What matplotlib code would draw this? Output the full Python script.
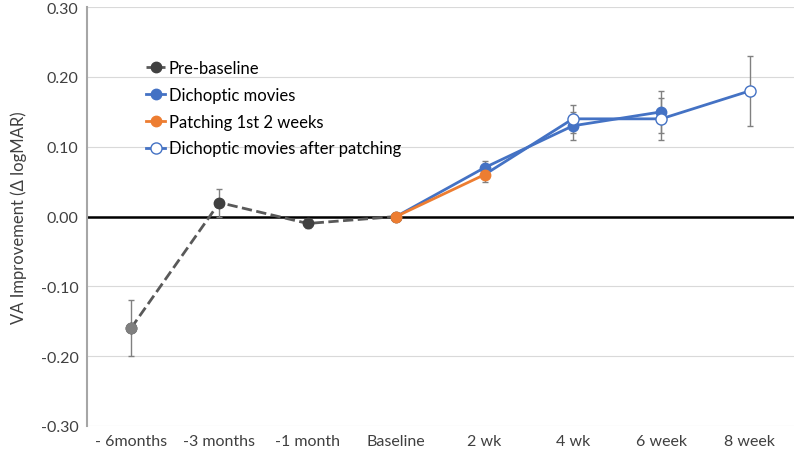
import matplotlib.pyplot as plt
import numpy as np

plt.rcParams['font.family'] = ['Lato', 'DejaVu Sans']

labels = ['- 6months', '-3 months', '-1 month', 'Baseline', '2 wk', '4 wk', '6 week', '8 week']

# series values (x index, y, error)
pre_x = [0, 1, 2, 3]
pre_y = [-0.16, 0.02, -0.01, 0.0]
pre_err = [0.04, 0.02, 0.006, 0.0]

dich_x = [3, 4, 5, 6]
dich_y = [0.0, 0.07, 0.13, 0.15]
dich_err = [0.0, 0.01, 0.02, 0.03]

patch_x = [3, 4]
patch_y = [0.0, 0.06]
patch_err = [0.0, 0.01]

after_x = [4, 5, 6, 7]
after_y = [0.06, 0.14, 0.14, 0.18]
after_err = [0.0, 0.02, 0.03, 0.05]

grey = '#595959'
blue = '#4472C4'
orange = '#ED7D31'
errc = '#808080'

fig = plt.figure(figsize=(7.97, 4.56), dpi=100)
ax = fig.add_axes([0.109, 0.064, 0.887, 0.918])

ax.set_xlim(-0.5, 7.5)
ax.set_ylim(-0.30, 0.30)
ax.set_yticks(np.arange(-0.3, 0.31, 0.1))
ax.set_yticklabels(['%.2f' % v for v in np.arange(-0.3, 0.31, 0.1)])
ax.set_xticks(range(len(labels)))
ax.set_xticklabels(labels)
ax.yaxis.grid(True, color='#d9d9d9', lw=0.8)
ax.set_axisbelow(True)
ax.axhline(0, color='black', lw=1.8, zorder=2)

for s in ['top', 'right', 'bottom']:
    ax.spines[s].set_visible(False)
ax.spines['left'].set_color('#a6a6a6')
ax.spines['left'].set_linewidth(1.5)
ax.tick_params(length=0, labelsize=11.5, colors='#404040', pad=6)
ax.set_ylabel('VA Improvement (\u0394 logMAR)', fontsize=12, color='#404040', labelpad=10)

ekw = dict(ecolor=errc, elinewidth=1, capsize=2.5, capthick=1)

ax.errorbar(pre_x, pre_y, yerr=pre_err, fmt='none', zorder=3, **ekw)
ax.plot(pre_x, pre_y, color=grey, ls='--', lw=2, marker='o', ms=7.5,
        mfc='#404040', mec='#404040', label='Pre-baseline', zorder=4)
# first pre-baseline marker is lighter grey
ax.plot(pre_x[:1], pre_y[:1], ls='none', marker='o', ms=7.5, mfc='#7f7f7f', mec='#7f7f7f', zorder=5)

ax.errorbar(dich_x, dich_y, yerr=dich_err, fmt='none', zorder=3, **ekw)
ax.plot(dich_x[1:], dich_y[1:], color=blue, lw=2, marker='o', ms=7.5, mfc=blue, mec=blue,
        label='Dichoptic movies', zorder=4)
ax.plot(dich_x[:2], dich_y[:2], color=blue, lw=2, zorder=4)

ax.errorbar(patch_x, patch_y, yerr=patch_err, fmt='none', zorder=3, **ekw)
ax.plot(patch_x, patch_y, color=orange, lw=2, marker='o', ms=7.5, mfc=orange, mec=orange,
        label='Patching 1st 2 weeks', zorder=5)

ax.errorbar(after_x, after_y, yerr=after_err, fmt='none', zorder=3, **ekw)
ax.plot(after_x, after_y, color=blue, lw=2, zorder=4)
ax.plot(after_x[1:], after_y[1:], ls='none', marker='o', ms=8, mfc='white', mec=blue, mew=1,
        zorder=6)
ax.plot([], [], color=blue, lw=2, marker='o', ms=8, mfc='white', mec=blue, mew=1,
        label='Dichoptic movies after patching')

handles, lbls = ax.get_legend_handles_labels()
leg = ax.legend(handles, lbls, loc='upper left', bbox_to_anchor=(0.063, 0.91), frameon=False,
                fontsize=12, handlelength=1.1, handletextpad=0.25, labelspacing=0.65,
                labelcolor='black')

fig.savefig('out.png', dpi=100)
